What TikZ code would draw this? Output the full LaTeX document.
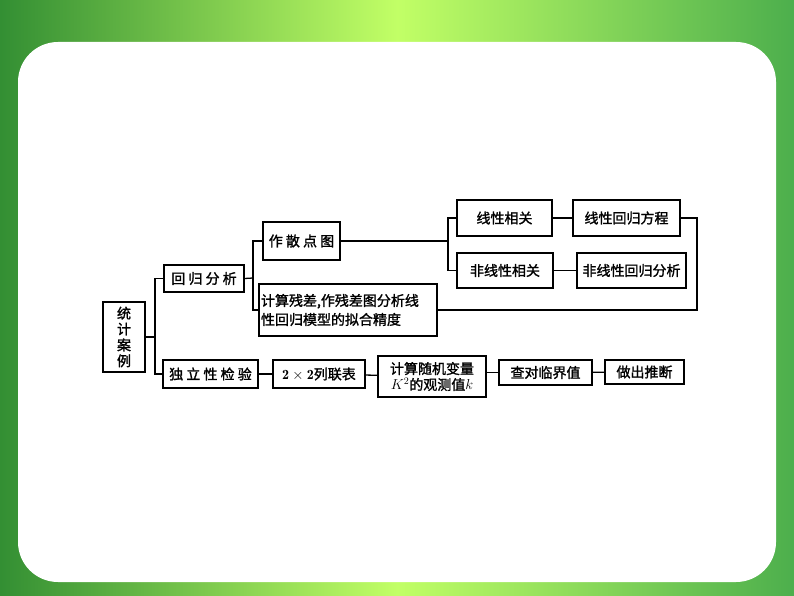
\documentclass[tikz,border=0pt]{standalone}
\usepackage{fontspec}
\newfontfamily\cjk{Noto Sans CJK SC}[FakeBold=1.5]
\begin{document}
\begin{tikzpicture}[x=1pt,y=-1pt,
 bx/.style={draw,line width=1.3pt,inner sep=0pt,font=\cjk\fontsize{14}{17}\selectfont},
 ln/.style={line width=1.3pt}]
\useasboundingbox (0,0) rectangle (794,596);
\fill[left color=green!45!black!80, right color=green!55!black!70, middle color=green!40!yellow!60] (0,0) rectangle (794,596);
\fill[white,rounded corners=40pt] (18,42) rectangle (776,582);
\newcommand\bb[6]{\node[bx,minimum width=#4-#2,minimum height=#5-#3] (#1) at ({(#2+#4)/2},{(#3+#5)/2}) {#6};}
\bb{tj}{103}{302}{145}{372}{\shortstack{统\\计\\案\\例}}
\bb{hg}{164}{265}{244}{292}{回 归 分 析}
\bb{dl}{163}{360}{258}{388}{独 立 性 检 验}
\bb{zs}{263}{222}{340}{260}{作 散 点 图}
\bb{js}{259}{284}{437}{336}{\parbox{174pt}{\baselineskip=19pt 计算残差,作残差图分析线\\性回归模型的拟合精度}}
\bb{xx}{457}{200}{552}{236}{线性相关}
\bb{fx}{457}{253}{553}{288}{非线性相关}
\bb{xh}{573}{200}{680}{236}{线性回归方程}
\bb{fh}{577}{253}{686}{288}{非线性回归分析}
\bb{lb}{273}{360}{365}{388}{$\mathbf{2\times2}$列联表}
\bb{sj}{378}{356}{486}{397}{\shortstack{计算随机变量\\$K^2$的观测值$k$}}
\bb{cd}{499}{360}{592}{385}{查对临界值}
\bb{zc}{605}{360}{684}{384}{做出推断}
\coordinate (a) at (155,337);
\draw[ln] (tj.east) -- (a);
\draw[ln] (hg.west) -| (a) |- (dl.west);
\coordinate (b) at (253,278);
\draw[ln] (hg.east) -- (b);
\draw[ln] (zs.west) -| (b) |- (js.west);
\coordinate (c) at (448,241);
\draw[ln] (zs.east) -- (c);
\draw[ln] (xx.west) -| (c) |- (fx.west);
\draw[ln] (xx) -- (xh);
\draw[ln] (fx) -- (fh);
\coordinate (d) at (697,310);
\draw[ln] (xh.east) -| (d) -- (js.east);
\draw[ln] (dl) -- (lb);
\draw[ln] (lb) -- (sj);
\draw[ln] (sj.east|-cd) -- (cd);
\draw[ln] (cd) -- (zc);
\end{tikzpicture}
\end{document}
